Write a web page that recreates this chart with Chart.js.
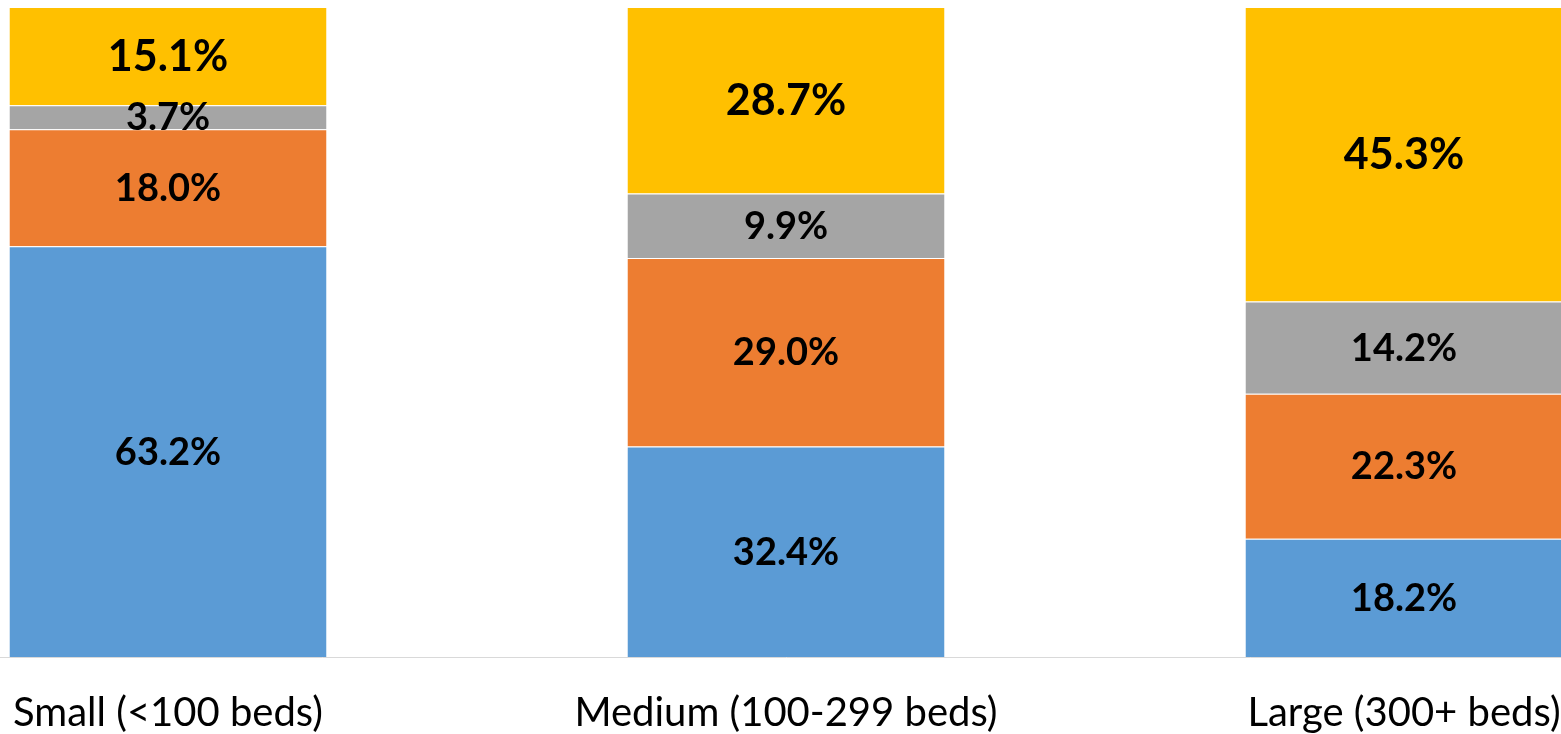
<!DOCTYPE html>
<html>
<head>
<meta charset="utf-8">
<script src="https://cdn.jsdelivr.net/npm/chart.js@4/dist/chart.umd.min.js"></script>
<style>
  html, body { margin: 0; padding: 0; background: #fff; overflow: hidden; width: 1561px; height: 734px; }
  #wrap { position: absolute; left: -141px; top: 0; width: 1854px; height: 734px; }
</style>
</head>
<body>
<div id="wrap"><canvas id="c"></canvas></div>
<script>
// Hospital size groups
const categories = ['Small (<100 beds)', 'Medium (100-299 beds)', 'Large (300+ beds)'];

// Share of hospitals in each group (percent), stacked bottom to top
const series1 = [63.2, 32.4, 18.2];
const series2 = [18.0, 29.0, 22.3];
const series3 = [3.7, 9.9, 14.2];
const series4 = [15.1, 28.7, 45.3];

const colors = ['#5B9BD5', '#ED7D31', '#A5A5A5', '#FFC000'];
const labelSizes = [38, 38, 38, 43];

// Writes each segment's value in the middle of its bar piece
const segmentLabels = {
  id: 'segmentLabels',
  afterDatasetsDraw(chart) {
    const ctx = chart.ctx;
    ctx.save();
    ctx.fillStyle = '#000';
    ctx.textAlign = 'center';
    ctx.textBaseline = 'middle';
    chart.data.datasets.forEach((ds, di) => {
      const meta = chart.getDatasetMeta(di);
      ctx.font = 'bold ' + labelSizes[di] + 'px Lato';
      meta.data.forEach((bar, i) => {
        const v = ds.data[i];
        ctx.fillText(v.toFixed(1) + '%', bar.x, (bar.y + bar.base) / 2 + 1);
      });
    });
    ctx.restore();
  }
};

const seriesData = [series1, series2, series3, series4];
const datasets = seriesData.map((d, i) => ({
  label: 'Series ' + (i + 1),
  data: d,
  backgroundColor: colors[i],
  borderColor: 'rgba(255,255,255,0.55)',
  borderWidth: { top: 1, right: 0, bottom: 0, left: 0 },
  borderSkipped: 'start',
  barPercentage: 0.513,
  categoryPercentage: 1.0
}));

new Chart(document.getElementById('c'), {
  type: 'bar',
  data: { labels: categories, datasets },
  options: {
    responsive: true,
    maintainAspectRatio: false,
    animation: false,
    layout: { padding: { top: 7, bottom: -35, left: 0, right: 0 } },
    plugins: { legend: { display: false }, tooltip: { enabled: false } },
    scales: {
      x: {
        stacked: true,
        grid: { display: false, drawTicks: false },
        border: { display: true, color: '#D9D9D9', width: 1 },
        ticks: {
          color: '#000',
          padding: 36,
          maxRotation: 0,
          autoSkip: false,
          font: { family: 'Lato', size: 40, lineHeight: 1.0 }
        }
      },
      y: {
        stacked: true,
        display: false,
        min: 0,
        max: 100
      }
    }
  },
  plugins: [segmentLabels]
});
</script>
</body>
</html>
